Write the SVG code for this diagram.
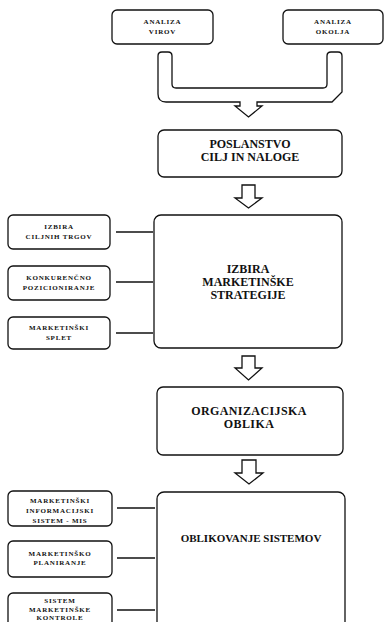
<svg xmlns="http://www.w3.org/2000/svg" width="385" height="622" viewBox="0 0 385 622">
<style>
.box{fill:#fff;stroke:#111;stroke-width:1.3}
.arr{fill:#fff;stroke:#111;stroke-width:1.3;stroke-linejoin:miter}
.ln{stroke:#111;stroke-width:1.3;fill:none}
.s{font-family:"Liberation Serif",serif;font-weight:bold;font-size:7px;letter-spacing:0.8px;text-anchor:middle;fill:#111}
.m{font-family:"Liberation Serif",serif;font-weight:bold;font-size:12px;text-anchor:middle;fill:#111}
</style>
<rect width="385" height="622" fill="#fff"/>
<g id="analiza-virov"><rect class="box" x="112" y="10" width="101" height="34" rx="5"/><text class="s" x="162.5" y="24">ANALIZA</text><text class="s" x="162.5" y="34">VIROV</text></g>
<g id="analiza-okolja"><rect class="box" x="283" y="10" width="100" height="34" rx="5"/><text class="s" x="333" y="24">ANALIZA</text><text class="s" x="333" y="34">OKOLJA</text></g>
<g id="connectors">
<path class="arr" d="M158,56 Q158,52 162,52 L168,52 Q172,52 172,56 L172,84 Q172,88 176,88 L323,88 Q327,88 327,84 L327,56 Q327,52 331,52 L338,52 Q342,52 342,56 L342,92 L332,102 L257,102 L257,106 L262,106 L248.5,117 L235,106 L240,106 L240,102 L166,102 Q158,102 158,94 Z"/>
<path class="arr" d="M242,185 L255,185 L255,198 L262,198 L248.5,208 L235,198 L242,198 Z"/>
<path class="arr" d="M242,356 L255,356 L255,368 L262,368 L248.5,380 L235,368 L242,368 Z"/>
<path class="arr" d="M242,460 L256,460 L256,473 L263,473 L249,484 L235,473 L242,473 Z"/>
<line class="ln" x1="116" y1="232" x2="153" y2="232"/>
<line class="ln" x1="116" y1="282" x2="153" y2="282"/>
<line class="ln" x1="116" y1="333" x2="153" y2="333"/>
<line class="ln" x1="117" y1="508" x2="155" y2="508"/>
<line class="ln" x1="117" y1="558" x2="155" y2="558"/>
<line class="ln" x1="117" y1="610" x2="155" y2="610"/>
</g>
<g id="poslanstvo"><rect class="box" x="158" y="130" width="184" height="47" rx="6"/><text class="m" x="250" y="148">POSLANSTVO</text><text class="m" x="250" y="161">CILJ IN NALOGE</text></g>
<g id="izbira-ciljnih"><rect class="box" x="8" y="215" width="102" height="34" rx="5"/><text class="s" x="59" y="229">IZBIRA</text><text class="s" x="59" y="239">CILJNIH TRGOV</text></g>
<g id="konkurencno"><rect class="box" x="8" y="266" width="102" height="34" rx="5"/><text class="s" x="59" y="280">KONKURENČNO</text><text class="s" x="59" y="290">POZICIONIRANJE</text></g>
<g id="splet"><rect class="box" x="8" y="317" width="102" height="32" rx="5"/><text class="s" x="59" y="330">MARKETINŠKI</text><text class="s" x="59" y="340">SPLET</text></g>
<g id="strategija"><rect class="box" x="154" y="215" width="188" height="133" rx="7"/><text class="m" x="248" y="273">IZBIRA</text><text class="m" x="248" y="286">MARKETINŠKE</text><text class="m" x="248" y="299">STRATEGIJE</text></g>
<g id="organizacijska"><rect class="box" x="157" y="387" width="186" height="68" rx="6"/><text class="m" x="249" y="415" style="letter-spacing:0.4px">ORGANIZACIJSKA</text><text class="m" x="249" y="428" style="letter-spacing:0.4px">OBLIKA</text></g>
<g id="mis"><rect class="box" x="8" y="491" width="104" height="35" rx="5"/><text class="s" x="60" y="503">MARKETINŠKI</text><text class="s" x="60" y="513">INFORMACIJSKI</text><text class="s" x="60" y="523">SISTEM - MIS</text></g>
<g id="planiranje"><rect class="box" x="8" y="541" width="104" height="36" rx="5"/><text class="s" x="60" y="556">MARKETINŠKO</text><text class="s" x="60" y="565">PLANIRANJE</text></g>
<g id="kontrola"><rect class="box" x="8" y="593" width="104" height="40" rx="5"/><text class="s" x="60" y="603">SISTEM</text><text class="s" x="60" y="611.5">MARKETINŠKE</text><text class="s" x="60" y="620">KONTROLE</text></g>
<g id="oblikovanje"><rect class="box" x="157" y="492" width="188" height="140" rx="7"/><text class="m" x="251" y="542" style="font-size:11px">OBLIKOVANJE SISTEMOV</text></g>
</svg>
